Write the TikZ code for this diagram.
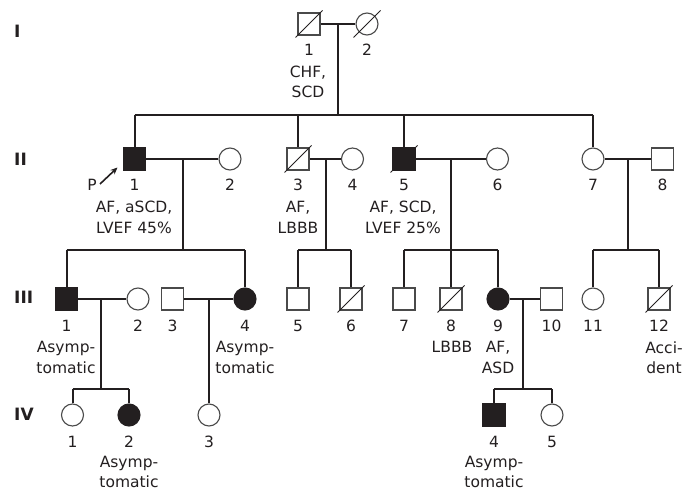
\documentclass[tikz,border=0pt]{standalone}
\usepackage{fontspec}
\setmainfont{DejaVu Sans}
\usetikzlibrary{arrows.meta}
\definecolor{ink}{HTML}{231F20}
\definecolor{outl}{HTML}{4A4A4A}
\begin{document}
\begin{tikzpicture}[x=1pt,y=-1pt,
  line/.style={line width=2pt, draw=ink},
  sq/.style={draw=outl, line width=1.1pt, fill=white, rectangle, minimum size=22pt, inner sep=0pt},
  ci/.style={draw=outl, line width=1.1pt, fill=white, circle, minimum size=22pt, inner sep=0pt},
  aff/.style={fill=ink, draw=ink},
  num/.style={font=\fontsize{15.5}{20.5}\selectfont, text=ink, inner sep=0pt},
  lab/.style={num, align=center},
  gen/.style={font=\bfseries\fontsize{17}{20}\selectfont, text=ink, anchor=west, inner sep=0pt},
  dead/.style={draw=ink, line width=1pt}]
\useasboundingbox (0,0) rectangle (688,492);

% generation labels
\node[gen] (gI) at (14,31) {I};
\node[gen] (gII) at (14,159) {II};
\node[gen] (gIII) at (14,297) {III};
\node[gen] (gIV) at (14,414) {IV};

% coordinates for marriage midpoints and sibship lines
\coordinate (m1) at (338,24);
\coordinate (s2L) at (134.5,115); \coordinate (s2R) at (593,115);
\coordinate (m21) at (183,159);
\coordinate (m23) at (326,159);
\coordinate (m25) at (451,159);
\coordinate (m27) at (628,159);
\coordinate (s31L) at (66.5,250); \coordinate (s31R) at (245,250);
\coordinate (s33L) at (298,250); \coordinate (s33R) at (351,250);
\coordinate (s35L) at (404,250); \coordinate (s35R) at (498,250);
\coordinate (s37L) at (593,250); \coordinate (s37R) at (659,250);
\coordinate (m31) at (101,299);
\coordinate (m33) at (209,299);
\coordinate (m39) at (523,299);
\coordinate (s41L) at (72.5,389); \coordinate (s41R) at (129,389);
\coordinate (s49L) at (494,389); \coordinate (s49R) at (552,389);

% Generation I
\node[sq] (I1) at (309,24) {};
\node[ci] (I2) at (367,24) {};
% Generation II
\node[sq, aff] (II1) at (134.5,159) {};
\node[ci] (II2) at (230,159) {};
\node[sq] (II3) at (298,159) {};
\node[ci] (II4) at (352.5,159) {};
\node[sq, aff] (II5) at (404,159) {};
\node[ci] (II6) at (497.5,159) {};
\node[ci] (II7) at (593,159) {};
\node[sq] (II8) at (662.5,159) {};
% Generation III
\node[sq, aff] (III1) at (66.5,299) {};
\node[ci] (III2) at (138,299) {};
\node[sq] (III3) at (172.5,299) {};
\node[ci, aff] (III4) at (245,299) {};
\node[sq] (III5) at (298,299) {};
\node[sq] (III6) at (351,299) {};
\node[sq] (III7) at (404,299) {};
\node[sq] (III8) at (451,299) {};
\node[ci, aff] (III9) at (498,299) {};
\node[sq] (III10) at (551.5,299) {};
\node[ci] (III11) at (593,299) {};
\node[sq] (III12) at (659,299) {};
% Generation IV
\node[ci] (IV1) at (72.5,415) {};
\node[ci, aff] (IV2) at (129,415) {};
\node[ci] (IV3) at (209,415) {};
\node[sq, aff] (IV4) at (494,415) {};
\node[ci] (IV5) at (552,415) {};

% marriage lines
\draw[line] (I1) -- (I2);
\draw[line] (II1) -- (II2);
\draw[line] (II3) -- (II4);
\draw[line] (II5) -- (II6);
\draw[line] (II7) -- (II8);
\draw[line] (III1) -- (III2);
\draw[line] (III3) -- (III4);
\draw[line] (III9) -- (III10);

% descent lines
\draw[line] (m1) -- (m1 |- s2L);
\draw[line] (s2L) -- (s2R);
\draw[line] (II1 |- s2L) -- (II1);
\draw[line] (II3 |- s2L) -- (II3);
\draw[line] (II5 |- s2L) -- (II5);
\draw[line] (II7 |- s2L) -- (II7);

\draw[line] (m21) -- (m21 |- s31L);
\draw[line] (s31L) -- (s31R);
\draw[line] (s31L) -- (III1);
\draw[line] (s31R) -- (III4);

\draw[line] (m23) -- (m23 |- s33L);
\draw[line] (s33L) -- (s33R);
\draw[line] (s33L) -- (III5);
\draw[line] (s33R) -- (III6);

\draw[line] (m25) -- (m25 |- s35L);
\draw[line] (s35L) -- (s35R);
\draw[line] (s35L) -- (III7);
\draw[line] (III8 |- s35L) -- (III8);
\draw[line] (s35R) -- (III9);

\draw[line] (m27) -- (m27 |- s37L);
\draw[line] (s37L) -- (s37R);
\draw[line] (s37L) -- (III11);
\draw[line] (s37R) -- (III12);

\draw[line] (m31) -- (m31 |- s41L);
\draw[line] (s41L) -- (s41R);
\draw[line] (s41L) -- (IV1);
\draw[line] (s41R) -- (IV2);

\draw[line] (m33) -- (IV3);

\draw[line] (m39) -- (m39 |- s49L);
\draw[line] (s49L) -- (s49R);
\draw[line] (s49L) -- (IV4);
\draw[line] (s49R) -- (IV5);

% deceased marks
\foreach \n in {I1,I2,II3,II5,III6,III8,III12}
  \draw[dead] ([shift={(-13.5,13.5)}]\n.center) -- ([shift={(13.5,-13.5)}]\n.center);

% proband arrow
\node[num] (P) at (92,185) {P};
\coordinate (pa) at (100,184);
\coordinate (pb) at (117.5,167.5);
\draw[ink, line width=1.6pt, -{Stealth[length=7pt,width=6pt]}] (pa) -- (pb);

% numbers
\node[num] (nI1) at (309,50) {1};
\node[num] (nI2) at (367,50) {2};
\node[num] (nII1) at (134.5,185) {1};
\node[num] (nII2) at (230,185) {2};
\node[num] (nII3) at (298,185) {3};
\node[num] (nII4) at (352.5,185) {4};
\node[num] (nII5) at (404,185) {5};
\node[num] (nII6) at (497.5,185) {6};
\node[num] (nII7) at (593,185) {7};
\node[num] (nII8) at (662.5,185) {8};
\node[num] (nIII1) at (66.5,326) {1};
\node[num] (nIII2) at (138,326) {2};
\node[num] (nIII3) at (172.5,326) {3};
\node[num] (nIII4) at (245,326) {4};
\node[num] (nIII5) at (298,326) {5};
\node[num] (nIII6) at (351,326) {6};
\node[num] (nIII7) at (404,326) {7};
\node[num] (nIII8) at (451,326) {8};
\node[num] (nIII9) at (498,326) {9};
\node[num] (nIII10) at (551.5,326) {10};
\node[num] (nIII11) at (593,326) {11};
\node[num] (nIII12) at (659,326) {12};
\node[num] (nIV1) at (72.5,442) {1};
\node[num] (nIV2) at (129,442) {2};
\node[num] (nIV3) at (209,442) {3};
\node[num] (nIV4) at (494,442) {4};
\node[num] (nIV5) at (552,442) {5};

% clinical labels
\node[lab] (lI1) at (308,82) {CHF,\\SCD};
\node[lab] (lII1) at (134,217.5) {AF, aSCD,\\LVEF 45\%};
\node[lab] (lII3) at (298,217.5) {AF,\\LBBB};
\node[lab] (lII5) at (403,217.5) {AF, SCD,\\LVEF 25\%};
\node[lab] (lIII1) at (66,357.5) {Asymp-\\tomatic};
\node[lab] (lIII4) at (245,357.5) {Asymp-\\tomatic};
\node[num] (lIII8) at (452,347) {LBBB};
\node[lab] (lIII9) at (498,357.5) {AF,\\ASD};
\node[lab] (lIII12) at (664,357.5) {Acci-\\dent};
\node[lab] (lIV2) at (129,472) {Asymp-\\tomatic};
\node[lab] (lIV4) at (494,472) {Asymp-\\tomatic};
\end{tikzpicture}
\end{document}
